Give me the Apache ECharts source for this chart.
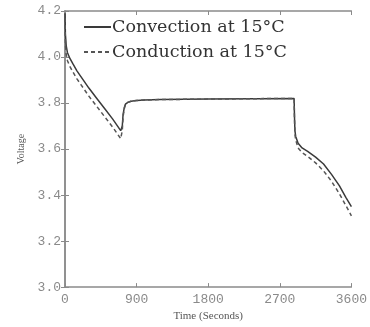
<!DOCTYPE html>
<html>
<head>
<meta charset="utf-8">
<script src="https://cdn.jsdelivr.net/npm/echarts@6/dist/echarts.min.js"></script>
<style>html,body{margin:0;padding:0;background:#fff}#c{width:370px;height:327px}</style>
</head>
<body>
<div id="c"></div>
<script>
const seriesNames = ['Convection at 15°C', 'Conduction at 15°C'];
const timeSec = [0, 5, 15, 30, 60, 100, 150, 200, 300, 400, 500, 600, 700, 712, 720, 730, 745, 760, 790, 830, 900, 1000, 1200, 1800, 2400, 2880, 2884, 2890, 2900, 2930, 2980, 3050, 3150, 3250, 3350, 3450, 3530, 3600];
const convection = [4.19, 4.10, 4.05, 4.02, 3.995, 3.97, 3.94, 3.915, 3.865, 3.82, 3.775, 3.73, 3.68, 3.672, 3.70, 3.75, 3.78, 3.795, 3.803, 3.808, 3.811, 3.813, 3.815, 3.817, 3.819, 3.82, 3.75, 3.68, 3.655, 3.625, 3.605, 3.59, 3.565, 3.535, 3.49, 3.44, 3.39, 3.35];
const conduction = [4.17, 4.06, 4.01, 3.985, 3.96, 3.935, 3.905, 3.88, 3.83, 3.785, 3.74, 3.695, 3.645, 3.637, 3.68, 3.74, 3.775, 3.795, 3.803, 3.808, 3.811, 3.813, 3.815, 3.817, 3.819, 3.82, 3.74, 3.665, 3.64, 3.605, 3.585, 3.568, 3.54, 3.505, 3.46, 3.405, 3.355, 3.31];
const xTicks = [0, 900, 1800, 2700, 3600];
const yTicks = [3.0, 3.2, 3.4, 3.6, 3.8, 4.0, 4.2];

const frame = '#8a8a8a';
const tickFont = {color: '#8a8a8a', fontFamily: 'Liberation Mono', fontSize: 13};
function pairs(ys){ return timeSec.map((t,i)=>[t, ys[i]]); }

const chart = echarts.init(document.getElementById('c'), null, {renderer: 'canvas'});
chart.setOption({
  animation: false,
  backgroundColor: '#fff',
  grid: {left: 65, top: 11, right: 18, bottom: 38},
  legend: {
    orient: 'vertical', left: 78, top: 12, itemGap: 5, itemWidth: 27, itemHeight: 14,
    data: seriesNames,
    itemStyle: {opacity: 0},
    textStyle: {fontFamily: 'DejaVu Serif', fontSize: 17.5, color: '#333', lineHeight: 20, padding: [0,0,0,-4]}
  },
  xAxis: [{
    type: 'value', min: xTicks[0], max: xTicks[xTicks.length-1], interval: 900,
    name: 'Time (Seconds)', nameLocation: 'middle', nameGap: 22,
    nameTextStyle: {fontFamily: 'Liberation Serif', fontSize: 11, color: '#555'},
    axisLine: {show: true, lineStyle: {color: frame, width: 1.5}},
    axisTick: {inside: true, length: 4, lineStyle: {color: frame}},
    axisLabel: Object.assign({margin: 6, formatter: v => String(v)}, tickFont),
    splitLine: {show: false}
  }, {
    type: 'value', position: 'top', min: 0, max: 3600, interval: 900,
    axisLine: {show: true, lineStyle: {color: frame, width: 1.5}},
    axisTick: {inside: true, length: 4, lineStyle: {color: frame}},
    axisLabel: {show: false}, splitLine: {show: false}
  }],
  yAxis: [{
    type: 'value', min: yTicks[0], max: yTicks[yTicks.length-1], interval: 0.2,
    name: 'Voltage', nameLocation: 'middle', nameGap: 29, nameRotate: 90,
    nameTextStyle: {fontFamily: 'Liberation Serif', fontSize: 10, color: '#555'},
    axisLine: {show: true, lineStyle: {color: frame, width: 1.5}},
    axisTick: {inside: true, length: 4, lineStyle: {color: frame}},
    axisLabel: Object.assign({margin: 4, formatter: v => v.toFixed(1)}, tickFont),
    splitLine: {show: false}
  }, {
    type: 'value', position: 'right', min: 3.0, max: 4.2, interval: 0.2,
    axisLine: {show: true, lineStyle: {color: frame, width: 1.5}},
    axisTick: {inside: true, length: 4, lineStyle: {color: frame}},
    axisLabel: {show: false}, splitLine: {show: false}
  }],
  series: [{
    name: seriesNames[0], type: 'line', data: pairs(convection), symbol: 'none',
    lineStyle: {color: '#3a3a3a', width: 1.5, type: 'solid'}, itemStyle: {color: '#3a3a3a'}
  }, {
    name: seriesNames[1], type: 'line', data: pairs(conduction), symbol: 'none',
    lineStyle: {color: '#555', width: 1.5, type: [4, 3]}, itemStyle: {color: '#555'}
  }]
});
</script>
</body>
</html>
